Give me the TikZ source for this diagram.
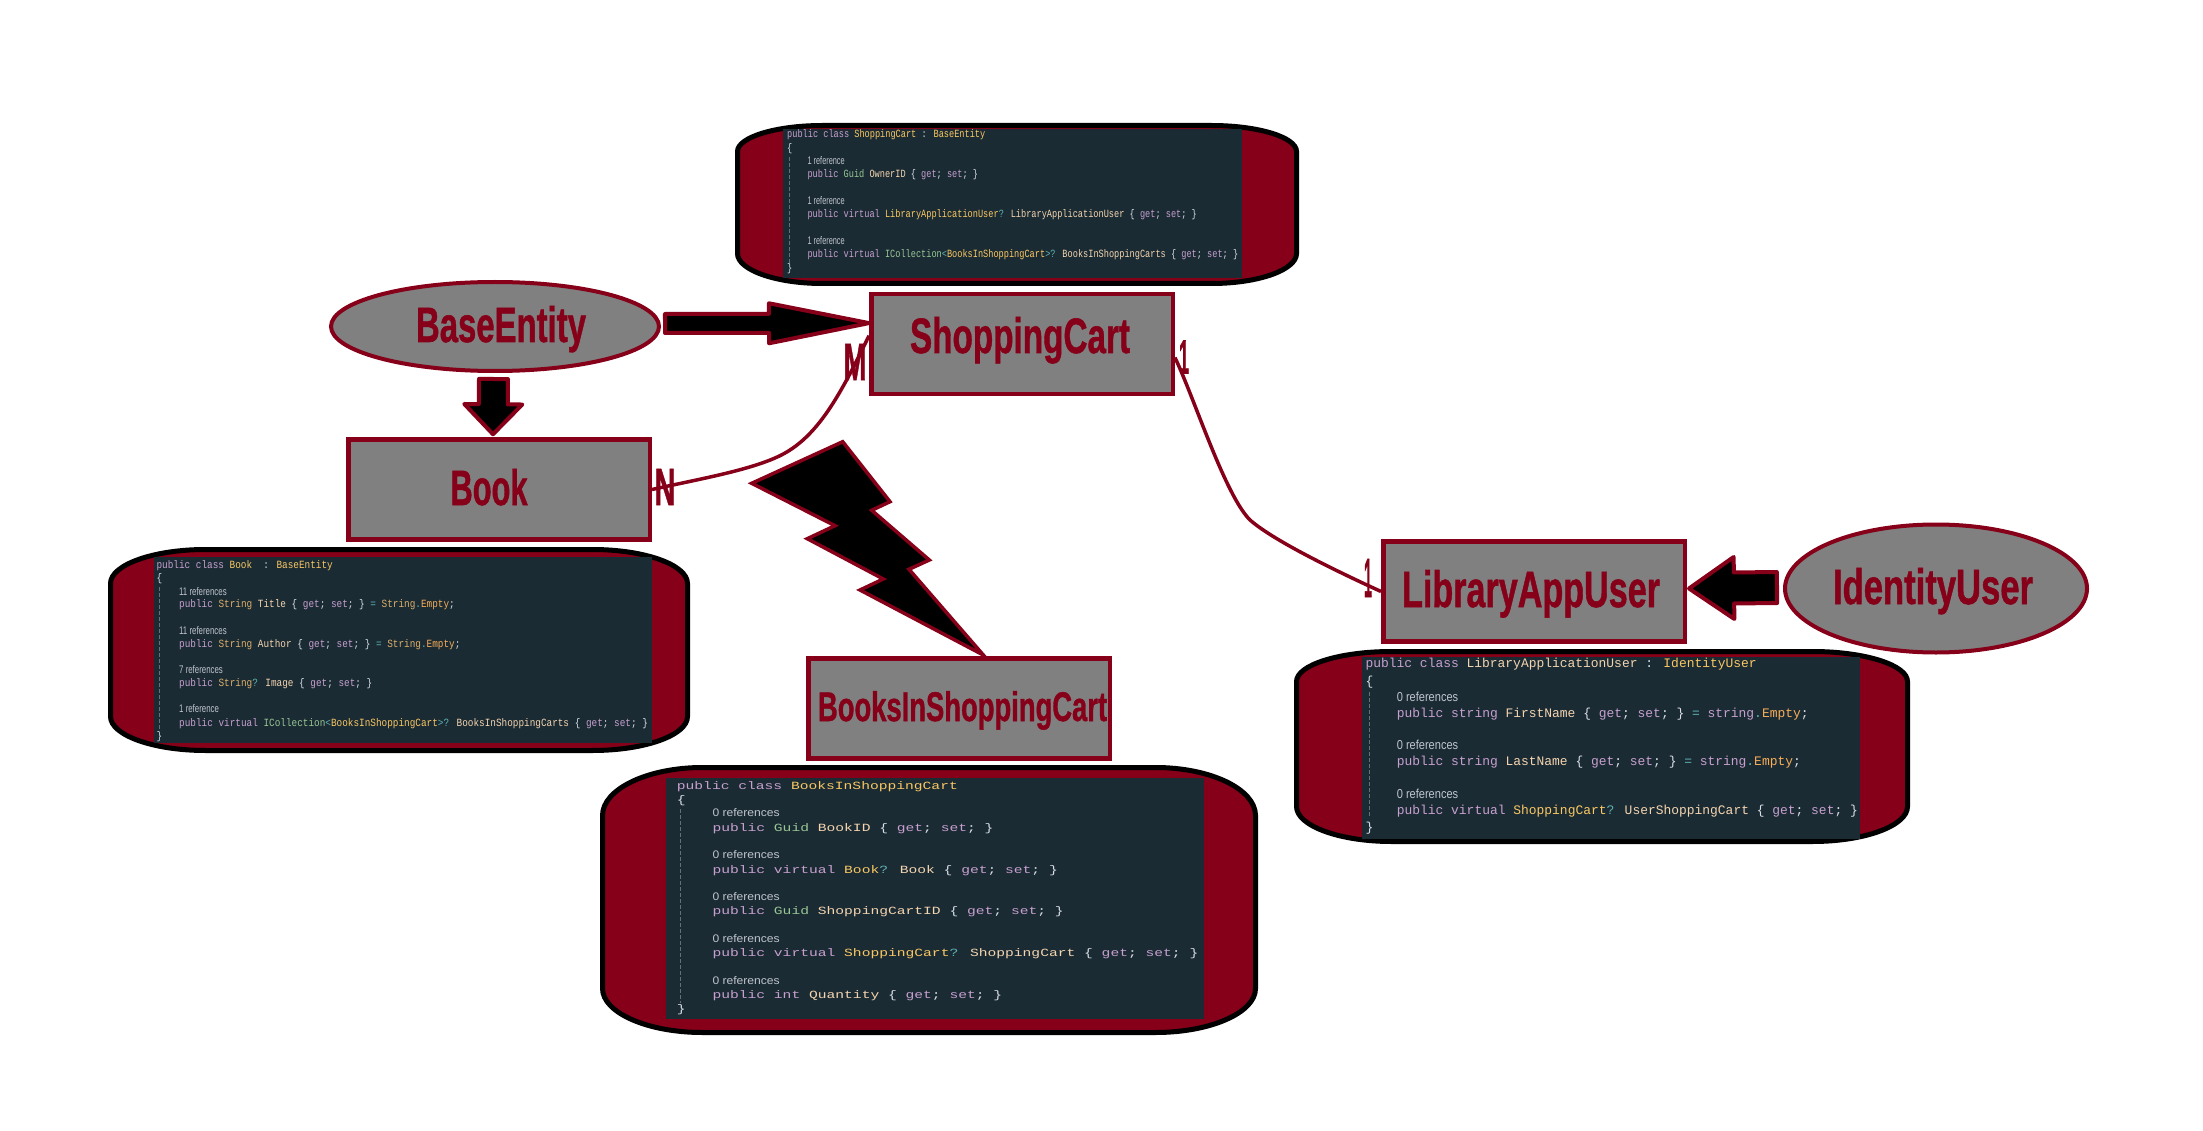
\documentclass[tikz,border=0pt]{standalone}
\usepackage{graphicx}
\usepackage{fontspec}
\usetikzlibrary{calc,shapes.geometric}
\newfontfamily\ttlfont[BoldFeatures={FakeBold=1.2}]{Liberation Sans}
\newfontfamily\codefont{Liberation Mono}
\newfontfamily\reffont{Liberation Sans}
\definecolor{maroon}{HTML}{850018}
\definecolor{shotbg}{HTML}{1B2B34}
\definecolor{midgrey}{HTML}{808080}
\definecolor{kwdc}{HTML}{C8A0D0}
\definecolor{typc}{HTML}{FAC863}
\definecolor{prpc}{HTML}{F5D5B0}
\definecolor{grnc}{HTML}{99C794}
\definecolor{punc}{HTML}{D8DEE9}
\definecolor{oprc}{HTML}{5FB3B3}
\definecolor{sttc}{HTML}{DDB06A}
\definecolor{empc}{HTML}{F9AE58}
\definecolor{refc}{HTML}{C0C5CE}
\newcommand{\kwd}[1]{\textcolor{kwdc}{#1}}
\newcommand{\typ}[1]{\textcolor{typc}{#1}}
\newcommand{\prp}[1]{\textcolor{prpc}{#1}}
\newcommand{\grn}[1]{\textcolor{grnc}{#1}}
\newcommand{\opr}[1]{\textcolor{oprc}{#1}}
\newcommand{\stt}[1]{\textcolor{sttc}{#1}}
\newcommand{\emp}[1]{\textcolor{empc}{#1}}
\newcommand{\gs}{\kwd{get}; \kwd{set}; \}}
% title placed by its left edge and baseline relative to the centre of its shape
\newcommand{\ttl}[5]{\smash{\makebox[0pt][l]{\hspace*{#1pt}\raisebox{#2pt}{\resizebox{#3pt}{#4pt}{\ttlfont\bfseries #5}}}}}
\newcommand{\mlt}[3]{\resizebox{#1pt}{#2pt}{\ttlfont\bfseries #3}}
\newcommand{\cl}[4]{\node[codetext] (#1) at (#2,#3) {\scalebox{\cs}[1]{#4}};}
\newcommand{\rl}[4]{\node[reftext] (#1) at (#2,#3) {\scalebox{\rs}[1]{#4}};}
% rounded panel: x1 y1 x2 y2 rx ry(top) ry(bottom)
\newcommand{\panel}[7]{\draw[panelshape]
  ({#1+#5},#2) -- ({#3-#5},#2)
  .. controls ({#3-.45*#5},#2) and (#3,{#2+.45*#6}) .. (#3,{#2+#6})
  -- (#3,{#4-#7})
  .. controls (#3,{#4-.45*#7}) and ({#3-.45*#5},#4) .. ({#3-#5},#4)
  -- ({#1+#5},#4)
  .. controls ({#1+.45*#5},#4) and (#1,{#4-.45*#7}) .. (#1,{#4-#7})
  -- (#1,{#2+#6})
  .. controls (#1,{#2+.45*#6}) and ({#1+.45*#5},#2) .. ({#1+#5},#2) -- cycle;}
% block arrow from #1 to #2: half shaft, half head, head length
\newcommand{\blockarrow}[5]{%
  \coordinate (neck) at ($(#2)!#5!(#1)$);
  \draw[blockshape] ($(#1)!#3!90:(#2)$) -- ($(neck)!#3!90:(#2)$) -- ($(neck)!#4!90:(#2)$)
    -- (#2) -- ($(neck)!#4!-90:(#2)$) -- ($(neck)!#3!-90:(#2)$) -- ($(#1)!#3!-90:(#2)$) -- cycle;}
\tikzset{
  entity/.style={draw=maroon,fill=midgrey,line width=4.5pt,rectangle,minimum width=301.5pt,minimum height=100pt,inner sep=0pt},
  parent/.style={draw=maroon,fill=midgrey,line width=4pt,ellipse,inner sep=0pt},
  mult/.style={inner sep=0pt,text=maroon},
  panelshape/.style={draw=black,fill=maroon,line width=5pt},
  shot/.style={fill=shotbg,draw=none,rectangle,inner sep=0pt},
  guide/.style={draw=refc!45!shotbg,line width=.8pt,dash pattern=on 4pt off 2pt},
  codetext/.style={anchor=base west,inner sep=0pt,text=punc,font=\codefont\fontsize{\csz}{\csz}\selectfont},
  reftext/.style={anchor=base west,inner sep=0pt,text=refc,font=\reffont\fontsize{\csz}{\csz}\selectfont},
  blockshape/.style={draw=maroon,fill=black,line width=4pt,line join=round},
  relation/.style={draw=maroon,line width=3.5pt},
}
\begin{document}
\begin{tikzpicture}[x=1pt,y=-1pt]
\useasboundingbox (0,0) rectangle (2203,1131);

% ---------- ShoppingCart code panel
\panel{737.5}{125.5}{1296.5}{283.5}{85}{26}{30}
\node[shot,minimum width=459pt,minimum height=149pt] (cartShot) at (1012.5,203.5) {};
\draw[guide] (789.6,157) -- (789.6,263);
\def\csz{11}\def\cs{.783}\def\rs{.67}
\cl{ca1}{787}{137.7}{\kwd{public class} \typ{ShoppingCart} : \typ{BaseEntity}}
\cl{ca2}{787}{151.7}{\{}
\rl{ca3}{807.3}{164.3}{1 reference}
\cl{ca4}{807.3}{177.7}{\kwd{public} \grn{Guid} \prp{OwnerID} \{ \gs}
\rl{ca5}{807.3}{204.7}{1 reference}
\cl{ca6}{807.3}{217.7}{\kwd{public virtual} \typ{LibraryApplicationUser}\opr{?} \prp{LibraryApplicationUser} \{ \gs}
\rl{ca7}{807.3}{244.7}{1 reference}
\cl{ca8}{807.3}{257.7}{\kwd{public virtual} \grn{ICollection}\opr{<}\typ{BooksInShoppingCart}\opr{>?} \prp{BooksInShoppingCarts} \{ \gs}
\cl{ca9}{787}{271.7}{\}}

% ---------- Book code panel
\panel{110.5}{549.5}{687.5}{750.5}{95}{34}{34}
\node[shot,minimum width=498pt,minimum height=186pt] (bookShot) at (403,650) {};
\draw[guide] (159,587) -- (159,730);
\def\csz{11}\def\cs{.852}\def\rs{.715}
\cl{bo1}{156.4}{568.3}{\kwd{public class} \typ{Book}~~: \typ{BaseEntity}}
\cl{bo2}{156.4}{581.7}{\{}
\rl{bo3}{179}{595}{11 references}
\cl{bo4}{179}{607.7}{\kwd{public} \stt{String} \prp{Title} \{ \gs{} \opr{=} \stt{String}\opr{.}\emp{Empty};}
\rl{bo5}{179}{634}{11 references}
\cl{bo6}{179}{647}{\kwd{public} \stt{String} \prp{Author} \{ \gs{} \opr{=} \stt{String}\opr{.}\emp{Empty};}
\rl{bo7}{179}{673.7}{7 references}
\cl{bo8}{179}{686.3}{\kwd{public} \stt{String}\opr{?} \prp{Image} \{ \gs}
\rl{bo9}{179}{712.7}{1 reference}
\cl{bo10}{179}{726}{\kwd{public virtual} \grn{ICollection}\opr{<}\typ{BooksInShoppingCart}\opr{>?} \prp{BooksInShoppingCarts} \{ \gs}
\cl{bo11}{156.4}{739.3}{\}}

% ---------- BooksInShoppingCart code panel
\panel{602.5}{767.5}{1255.5}{1032.5}{100}{48}{44}
\node[shot,minimum width=538pt,minimum height=241pt] (bisShot) at (935,898.5) {};
\draw[guide] (680,809) -- (680,1003);
\def\csz{11}\def\cs{1.33}\def\rs{1.1}
\cl{bi1}{676.7}{789}{\kwd{public class} \typ{BooksInShoppingCart}}
\cl{bi2}{676.7}{803.3}{\{}
\rl{bi3}{712.3}{816.7}{0 references}
\cl{bi4}{712.3}{831}{\kwd{public} \grn{Guid} \prp{BookID} \{ \gs}
\rl{bi5}{712.3}{858.7}{0 references}
\cl{bi6}{712.3}{873}{\kwd{public virtual} \typ{Book}\opr{?} \prp{Book} \{ \gs}
\rl{bi7}{712.3}{900.7}{0 references}
\cl{bi8}{712.3}{914.7}{\kwd{public} \grn{Guid} \prp{ShoppingCartID} \{ \gs}
\rl{bi9}{712.3}{942.7}{0 references}
\cl{bi10}{712.3}{956.7}{\kwd{public virtual} \typ{ShoppingCart}\opr{?} \prp{ShoppingCart} \{ \gs}
\rl{bi11}{712.3}{984.3}{0 references}
\cl{bi12}{712.3}{998.3}{\kwd{public int} \prp{Quantity} \{ \gs}
\cl{bi13}{676.7}{1012.3}{\}}

% ---------- LibraryApplicationUser code panel
\panel{1296.5}{651.5}{1907.5}{841.5}{95}{30}{35}
\node[shot,minimum width=498pt,minimum height=182pt] (libShot) at (1611,748) {};
\draw[guide] (1369,692) -- (1369,817);
\def\csz{13}\def\cs{.996}\def\rs{.85}
\cl{li1}{1365.4}{667.7}{\kwd{public class} \prp{LibraryApplicationUser} : \typ{IdentityUser}}
\cl{li2}{1365.4}{685.7}{\{}
\rl{li3}{1396.6}{701}{0 references}
\cl{li4}{1396.6}{717}{\kwd{public string} \prp{FirstName} \{ \gs{} \opr{=} \kwd{string}\opr{.}\emp{Empty};}
\rl{li5}{1396.6}{749.7}{0 references}
\cl{li6}{1396.6}{765.7}{\kwd{public string} \prp{LastName} \{ \gs{} \opr{=} \kwd{string}\opr{.}\emp{Empty};}
\rl{li7}{1396.6}{798.3}{0 references}
\cl{li8}{1396.6}{814.3}{\kwd{public virtual} \typ{ShoppingCart}\opr{?} \prp{UserShoppingCart} \{ \gs}
\cl{li9}{1365.4}{831.7}{\}}

% ---------- multiplicity labels (under the relation lines)
\node[mult] (multM) at (855,362) {\mlt{23}{36}{M}};
\node[mult] (multN) at (665,487) {\mlt{21}{36}{N}};
\node[mult] (multOneA) at (1184,357) {\mlt{10}{33}{1}};
\node[mult] (multOneB) at (1368,578) {\mlt{8}{38}{1}};

% ---------- entities
\node[entity,text=maroon] (shop) at (1022,344) {\ttl{-112}{-9}{220}{36}{ShoppingCart}};
\node[entity,text=maroon] (book) at (499,489.5) {\ttl{-48.5}{-15.5}{77}{36}{Book}};
\node[entity,text=maroon] (libuser) at (1534,591.5) {\ttl{-132}{-15.5}{258}{37}{LibraryAppUser}};
\node[entity,text=maroon] (bisc) at (959,708.5) {\ttl{-141}{-12.5}{289}{30}{BooksInShoppingCart}};
\node[parent,text=maroon,minimum width=328pt,minimum height=89pt] (base) at (495,326.5) {\ttl{-79}{-15.5}{170}{36}{BaseEntity}};
\node[parent,text=maroon,minimum width=302pt,minimum height=128pt] (identity) at (1936,588.5) {\ttl{-103}{-15.5}{200}{36}{IdentityUser}};

% ---------- relations
\coordinate (shopIn) at ($(shop.north west)!.42!(shop.south west)$);
\coordinate (shopOut) at ($(shop.north east)!.63!(shop.south east)$);
\draw[relation] (book.east) .. controls (700,479) and (745,471) .. (775,458)
  .. controls (815,441) and (838,400) .. (shopIn);
\draw[relation] (shopOut) .. controls (1195,400) and (1225,495) .. (1250,520)
  .. controls (1275,542) and (1345,575) .. (libuser.west);

% ---------- inheritance arrows
\coordinate (baseOut) at ($(base.east)+(4,-3)$);
\coordinate (shopTip) at ($(shop.north west)!.3!(shop.south west)$);
\blockarrow{baseOut}{shopTip}{9.5pt}{20pt}{100pt}
\coordinate (baseDown) at ($(base.south)+(-1.5,6)$);
\coordinate (bookTip) at ($(book.north)+(-6,-3)$);
\blockarrow{baseDown}{bookTip}{14.5pt}{29pt}{30pt}
\coordinate (idOut) at ($(identity.west)+(-6,-1)$);
\coordinate (libTip) at ($(libuser.east)+(2,-3)$);
\blockarrow{idOut}{libTip}{15.5pt}{31pt}{45pt}

% ---------- lightning bolt
\draw[blockshape,line width=3.5pt,line join=miter]
  (842.7,441.7) -- (890,501.7) -- (871.7,510.3) -- (929.3,560) -- (909,569.3)
  -- (983.3,655) -- (860,590) -- (883.3,579) -- (807.3,538.7) -- (835,525.7)
  -- (751.7,483.3) -- cycle;
\end{tikzpicture}
\end{document}
